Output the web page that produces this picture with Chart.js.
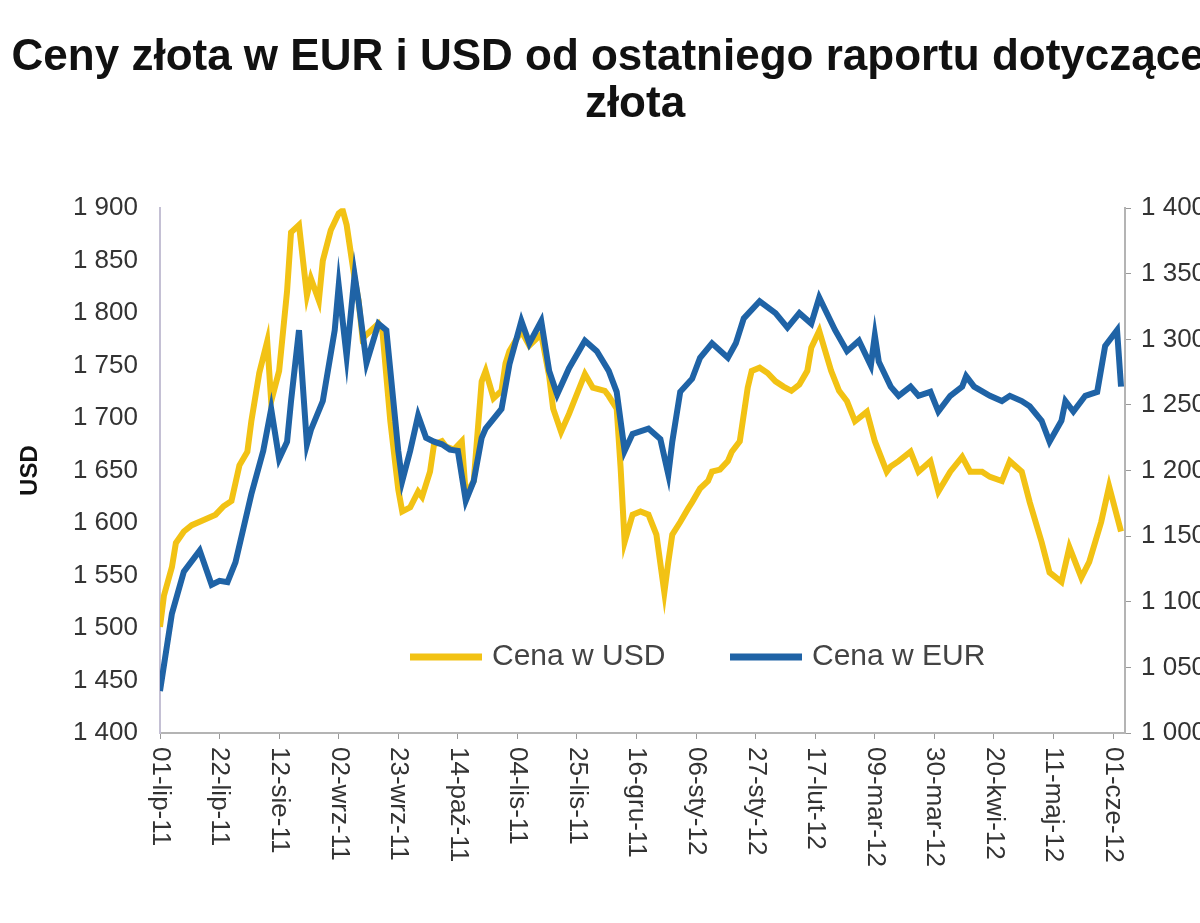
<!DOCTYPE html>
<html><head><meta charset="utf-8">
<script src="https://cdn.jsdelivr.net/npm/chart.js@4.4.0/dist/chart.umd.min.js"></script>
<style>
html,body{margin:0;padding:0;background:#fff;overflow:hidden;width:1200px;height:923px}
#wrap{position:absolute;left:0;top:0;width:1270px;height:923px}
</style>
</head><body><div id="wrap"><canvas id="c" width="1270" height="923"></canvas></div>
<script>
const titleLines = ['Ceny złota w EUR i USD od ostatniego raportu dotyczącego', 'złota'];
const seriesNames = ['Cena w USD', 'Cena w EUR'];
const leftAxisTitle = 'USD';
const tickLabels = ['01-lip-11','22-lip-11','12-sie-11','02-wrz-11','23-wrz-11','14-paź-11','04-lis-11','25-lis-11','16-gru-11','06-sty-12','27-sty-12','17-lut-12','09-mar-12','30-mar-12','20-kwi-12','11-maj-12','01-cze-12'];
const tickStepDays = 15;
const lastDay = 243;
const usdRange = [1400, 1900, 50];
const eurRange = [1000, 1400, 50];

const usdDays = [0,1,3,4,6,8,11,14,16,18,
20,22,23,25,27,28,30,31,32,33,
35,37,38,40,41,43,45,46,47,49,
50,51,53,55,56,58,60,61,63,65,
66,68,69,71,72,74,76,77,79,81,
82,84,86,87,88,91,93,96,98,99,
101,103,107,109,112,113,115,116,117,119,
121,123,125,127,128,129,131,133,134,136,
138,139,141,143,144,146,148,149,151,153,
155,157,159,161,163,164,166,169,171,173,
175,178,180,183,184,186,189,191,194,196,
199,202,204,207,209,212,214,217,219,222,
224,227,229,232,234,237,239,242];
const usdValues = [1501,1531,1558,1581,1592,1598,1603,1608,1616,1621,
1655,1668,1697,1743,1773,1716,1745,1783,1821,1877,
1884,1817,1833,1812,1850,1879,1895,1898,1884,1833,
1812,1776,1783,1790,1783,1697,1632,1611,1615,1630,
1625,1649,1675,1678,1673,1670,1678,1627,1640,1735,
1745,1719,1726,1752,1764,1783,1769,1780,1740,1709,
1687,1704,1742,1729,1726,1721,1709,1652,1582,1608,
1611,1608,1589,1534,1563,1589,1601,1614,1620,1633,
1640,1649,1651,1659,1668,1678,1729,1745,1748,1743,
1735,1730,1726,1732,1745,1767,1783,1745,1726,1716,
1697,1706,1678,1649,1654,1659,1668,1649,1659,1630,
1649,1663,1649,1649,1644,1640,1659,1649,1620,1582,
1553,1544,1577,1548,1563,1601,1635,1592];

const eurDays = [0,3,6,10,13,15,17,19,21,23,
26,28,30,32,33,35,37,38,41,44,
45,47,49,50,52,55,57,60,61,63,
65,67,69,71,73,75,77,79,81,82,
86,88,91,93,96,98,100,103,107,110,
113,115,117,119,123,126,128,129,131,134,
136,139,143,145,147,151,155,158,161,164,
166,170,173,176,179,180,181,184,186,189,
191,194,196,199,202,203,205,209,212,214,
217,219,222,224,227,228,230,233,236,238,
241,242];
const eurValues = [1032,1091,1123,1139,1113,1116,1115,1130,1156,1182,
1215,1247,1209,1222,1253,1307,1220,1231,1253,1307,
1341,1287,1349,1329,1282,1312,1307,1215,1192,1215,
1242,1225,1222,1220,1216,1215,1177,1192,1225,1232,
1247,1281,1314,1297,1314,1276,1258,1278,1299,1291,
1276,1260,1215,1228,1232,1224,1197,1222,1260,1270,
1286,1297,1286,1297,1316,1329,1320,1309,1320,1312,
1332,1307,1291,1299,1280,1303,1283,1264,1257,1264,
1257,1260,1245,1257,1264,1272,1264,1257,1253,1257,
1253,1249,1238,1222,1238,1253,1245,1257,1260,1295,
1307,1264];

const FONT = '"Liberation Sans", Arial, sans-serif';
const fmt = v => String(v).replace(/\B(?=(\d{3})+(?!\d))/g, ' ');

const xLabelPlugin = {
  id: 'xLabels',
  afterDraw(chart) {
    const sc = chart.scales.x, ctx = chart.ctx;
    ctx.save();
    ctx.font = '26px ' + FONT;
    ctx.fillStyle = '#333';
    ctx.textAlign = 'left';
    ctx.textBaseline = 'middle';
    sc.ticks.forEach(t => {
      const idx = Math.round(t.value / tickStepDays);
      if (t.value % tickStepDays !== 0 || !tickLabels[idx]) return;
      const x = sc.getPixelForValue(t.value);
      ctx.save();
      ctx.translate(x, sc.top + 14);
      ctx.rotate(Math.PI / 2);
      ctx.fillText(tickLabels[idx], 0, 0);
      ctx.restore();
    });
    ctx.restore();
  }
};

const legendPlugin = {
  id: 'inLegend',
  afterDatasetsDraw(chart) {
    const ca = chart.chartArea, ctx = chart.ctx;
    ctx.save();
    ctx.font = '30px ' + FONT;
    ctx.textBaseline = 'middle';
    ctx.textAlign = 'left';
    const y = ca.bottom - 76;
    chart.data.datasets.forEach((ds, i) => {
      const x0 = ca.left + 250 + i * 320;
      ctx.strokeStyle = ds.borderColor;
      ctx.lineWidth = 7;
      ctx.beginPath(); ctx.moveTo(x0, y); ctx.lineTo(x0 + 72, y); ctx.stroke();
      ctx.fillStyle = '#444';
      ctx.fillText(ds.label, x0 + 82, y);
    });
    ctx.restore();
  }
};

new Chart(document.getElementById('c'), {
  type: 'line',
  data: {
    datasets: [
      { label: seriesNames[0], data: usdDays.map((d, i) => ({x: d, y: usdValues[i]})),
        borderColor: '#F2C214', borderWidth: 6, pointRadius: 0, tension: 0, yAxisID: 'y', order: 1 },
      { label: seriesNames[1], data: eurDays.map((d, i) => ({x: d, y: eurValues[i]})),
        borderColor: '#1F63A6', borderWidth: 6, pointRadius: 0, tension: 0, yAxisID: 'y2', order: 0 }
    ]
  },
  options: {
    responsive: false, animation: false, devicePixelRatio: 1,
    layout: { padding: 0 },
    plugins: {
      legend: { display: false }, tooltip: { enabled: false },
      title: { display: true, text: titleLines, color: '#111',
        font: { family: FONT, size: 44, weight: 'bold', lineHeight: 1.07 },
        padding: { top: 34, bottom: 80 } }
    },
    scales: {
      x: { type: 'linear', min: 0, max: lastDay,
        ticks: { stepSize: tickStepDays, includeBounds: false, display: false,
          callback: v => tickLabels[Math.round(v / tickStepDays)] || '' },
        grid: { drawOnChartArea: false, drawTicks: true, tickLength: 6, color: '#999' },
        border: { display: true, color: '#b4b4b4', width: 2 },
        afterFit: s => { s.height = 190; } },
      y: { position: 'left', min: usdRange[0], max: usdRange[1],
        ticks: { stepSize: usdRange[2], callback: fmt, color: '#333', padding: 22, font: { family: FONT, size: 26 } },
        grid: { drawOnChartArea: false, drawTicks: false },
        border: { display: true, color: '#c4c0d4', width: 2 },
        title: { display: true, text: leftAxisTitle, color: '#111', padding: { top: 16, bottom: 0 },
          font: { family: FONT, size: 24, weight: 'bold' } },
        afterFit: s => { s.width = 160; } },
      y2: { position: 'right', min: eurRange[0], max: eurRange[1],
        ticks: { stepSize: eurRange[2], callback: fmt, color: '#333', padding: 10, font: { family: FONT, size: 26 } },
        grid: { drawOnChartArea: false, drawTicks: true, tickLength: 6, color: '#999' },
        border: { display: true, color: '#b4b4b4', width: 2 },
        afterFit: s => { s.width = 145; } }
    }
  },
  plugins: [xLabelPlugin, legendPlugin]
});
</script>
</body></html>
